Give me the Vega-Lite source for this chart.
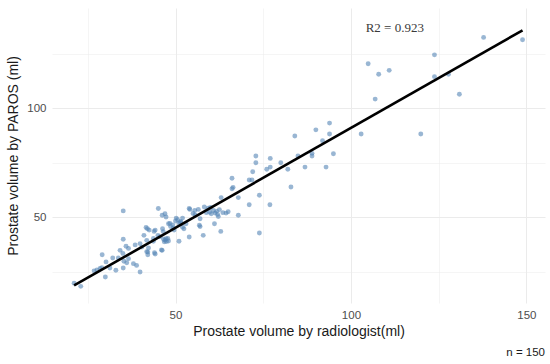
{
  "$schema": "https://vega.github.io/schema/vega-lite/v6.json",
  "width": 493,
  "height": 295,
  "autosize": "none",
  "padding": {"left": 52, "top": 8, "right": 5, "bottom": 61},
  "background": "white",
  "config": {
    "view": {"stroke": null},
    "font": "Liberation Sans",
    "axis": {
      "domain": false,
      "ticks": false,
      "labelColor": "#4d4d4d",
      "labelFontSize": 11.5,
      "titleColor": "#1a1a1a",
      "titleFontSize": 14,
      "titleFontWeight": "normal",
      "gridColor": "#ebebeb"
    }
  },
  "title": {
    "text": "n = 150",
    "orient": "bottom",
    "anchor": "end",
    "fontSize": 11.5,
    "fontWeight": "normal",
    "color": "#1a1a1a",
    "offset": 8
  },
  "data": {
    "values": [
      {"x": 21.1, "y": 19.6}, {"x": 23.0, "y": 18.2}, {"x": 26.8, "y": 25.3}, {"x": 27.6, "y": 25.7},
      {"x": 28.5, "y": 26.4}, {"x": 29.0, "y": 26.8}, {"x": 29.1, "y": 32.7}, {"x": 30.2, "y": 29.4},
      {"x": 30.0, "y": 22.5}, {"x": 31.3, "y": 26.6}, {"x": 32.1, "y": 31.2}, {"x": 33.0, "y": 25.6},
      {"x": 33.7, "y": 31.2}, {"x": 34.2, "y": 34.7}, {"x": 35.1, "y": 39.8}, {"x": 35.1, "y": 26.6},
      {"x": 35.3, "y": 29.7}, {"x": 35.9, "y": 36.6}, {"x": 36.1, "y": 29.0}, {"x": 35.1, "y": 52.8},
      {"x": 36.6, "y": 30.9}, {"x": 38.0, "y": 28.6}, {"x": 38.9, "y": 27.8}, {"x": 39.9, "y": 24.8},
      {"x": 39.9, "y": 37.8}, {"x": 40.4, "y": 36.2}, {"x": 41.0, "y": 41.6}, {"x": 41.8, "y": 39.3},
      {"x": 42.0, "y": 44.6}, {"x": 42.1, "y": 33.9}, {"x": 42.1, "y": 32.7}, {"x": 42.3, "y": 35.8},
      {"x": 43.7, "y": 38.9}, {"x": 43.9, "y": 43.4}, {"x": 44.0, "y": 33.6}, {"x": 45.1, "y": 53.9},
      {"x": 45.0, "y": 41.6}, {"x": 45.6, "y": 41.0}, {"x": 46.2, "y": 34.7}, {"x": 46.2, "y": 50.8},
      {"x": 46.3, "y": 44.6}, {"x": 46.6, "y": 39.8}, {"x": 47.0, "y": 39.4}, {"x": 47.4, "y": 38.8},
      {"x": 47.8, "y": 40.2}, {"x": 46.8, "y": 38.6}, {"x": 47.0, "y": 51.5}, {"x": 47.3, "y": 50.0},
      {"x": 48.0, "y": 46.9}, {"x": 48.6, "y": 45.6}, {"x": 49.2, "y": 46.4}, {"x": 49.4, "y": 45.0},
      {"x": 50.0, "y": 48.2}, {"x": 50.6, "y": 48.8}, {"x": 51.0, "y": 47.2}, {"x": 51.4, "y": 47.6},
      {"x": 51.0, "y": 38.9}, {"x": 52.0, "y": 49.5}, {"x": 52.4, "y": 44.6}, {"x": 53.0, "y": 46.9},
      {"x": 53.9, "y": 53.9}, {"x": 53.9, "y": 40.8}, {"x": 55.0, "y": 51.6}, {"x": 55.6, "y": 51.0},
      {"x": 56.8, "y": 46.2}, {"x": 57.0, "y": 49.2}, {"x": 57.9, "y": 41.6}, {"x": 58.2, "y": 54.6},
      {"x": 59.3, "y": 54.0}, {"x": 59.7, "y": 52.2}, {"x": 60.2, "y": 51.5}, {"x": 60.8, "y": 53.0},
      {"x": 61.3, "y": 51.8}, {"x": 61.7, "y": 52.6}, {"x": 62.0, "y": 51.2}, {"x": 62.5, "y": 53.4},
      {"x": 61.1, "y": 46.9}, {"x": 62.9, "y": 43.4}, {"x": 63.0, "y": 58.9}, {"x": 64.4, "y": 51.8},
      {"x": 65.0, "y": 52.4}, {"x": 66.4, "y": 63.6}, {"x": 66.1, "y": 63.0}, {"x": 66.1, "y": 67.8},
      {"x": 67.9, "y": 50.8}, {"x": 67.9, "y": 58.9}, {"x": 58.8, "y": 52.0}, {"x": 71.0, "y": 55.6},
      {"x": 73.9, "y": 60.0}, {"x": 73.9, "y": 42.7}, {"x": 76.9, "y": 55.6}, {"x": 71.0, "y": 67.0},
      {"x": 71.8, "y": 67.0}, {"x": 72.0, "y": 70.8}, {"x": 72.9, "y": 74.9}, {"x": 72.9, "y": 78.0},
      {"x": 76.0, "y": 71.9}, {"x": 77.0, "y": 72.9}, {"x": 77.0, "y": 76.9}, {"x": 80.0, "y": 74.9},
      {"x": 82.0, "y": 71.9}, {"x": 82.9, "y": 63.8}, {"x": 84.9, "y": 78.0}, {"x": 86.9, "y": 72.9},
      {"x": 92.9, "y": 72.9}, {"x": 88.9, "y": 79.2}, {"x": 88.9, "y": 78.0}, {"x": 95.0, "y": 79.0},
      {"x": 91.9, "y": 85.0}, {"x": 93.9, "y": 88.1}, {"x": 90.0, "y": 90.0}, {"x": 84.0, "y": 87.2},
      {"x": 93.9, "y": 93.1}, {"x": 104.9, "y": 120.3}, {"x": 107.9, "y": 115.5}, {"x": 110.9, "y": 117.3},
      {"x": 106.9, "y": 104.1}, {"x": 102.9, "y": 88.1}, {"x": 119.9, "y": 88.1}, {"x": 123.8, "y": 124.4},
      {"x": 123.8, "y": 114.4}, {"x": 127.8, "y": 115.5}, {"x": 130.9, "y": 106.3}, {"x": 137.8, "y": 132.4},
      {"x": 148.9, "y": 131.3}, {"x": 57.0, "y": 45.6}, {"x": 55.5, "y": 53.0}, {"x": 56.5, "y": 53.5},
      {"x": 41.6, "y": 45.2}, {"x": 42.5, "y": 44.0}, {"x": 44.2, "y": 44.0}, {"x": 43.7, "y": 40.2},
      {"x": 46.5, "y": 43.3}, {"x": 48.4, "y": 47.1}, {"x": 50.2, "y": 49.5}, {"x": 51.5, "y": 48.0},
      {"x": 52.0, "y": 45.3}, {"x": 47.3, "y": 40.0}, {"x": 48.0, "y": 39.0}, {"x": 54.1, "y": 53.5},
      {"x": 36.6, "y": 35.6}, {"x": 35.0, "y": 33.3}, {"x": 44.2, "y": 33.0}, {"x": 46.0, "y": 34.9},
      {"x": 41.8, "y": 34.1}, {"x": 38.5, "y": 37.2}, {"x": 60.0, "y": 54.4}, {"x": 63.5, "y": 52.0},
      {"x": 49.6, "y": 44.0}, {"x": 62.2, "y": 50.2}
    ]
  },
  "encoding": {
    "x": {
      "field": "x",
      "type": "quantitative",
      "scale": {"domain": [14.8, 155.3], "nice": false, "zero": false},
      "axis": {
        "title": "Prostate volume by radiologist(ml)",
        "values": [25, 50, 75, 100, 125, 150],
        "labelExpr": "datum.value % 50 === 0 ? datum.label : ''",
        "gridWidth": {"condition": {"test": "datum.value % 50 !== 0", "value": 0.5}, "value": 1},
        "labelPadding": 6,
        "titlePadding": 4
      }
    },
    "y": {
      "field": "y",
      "type": "quantitative",
      "scale": {"domain": [10.55, 145.9], "nice": false, "zero": false},
      "axis": {
        "title": "Prostate volume by PAROS (ml)",
        "values": [25, 50, 75, 100, 125],
        "labelExpr": "datum.value % 50 === 0 ? datum.label : ''",
        "gridWidth": {"condition": {"test": "datum.value % 50 !== 0", "value": 0.5}, "value": 1},
        "labelPadding": 6,
        "titlePadding": 6
      }
    }
  },
  "layer": [
    {
      "mark": {"type": "circle", "size": 24, "color": "#5585b5", "opacity": 0.6}
    },
    {
      "transform": [{"regression": "y", "on": "x"}],
      "mark": {"type": "line", "color": "black", "strokeWidth": 2.6}
    },
    {
      "data": {"values": [{"x": 112.5, "y": 136.7, "label": "R2 = 0.923"}]},
      "mark": {"type": "text", "font": "Liberation Serif", "fontSize": 13, "color": "#3a3a3a", "fontWeight": "normal"},
      "encoding": {"text": {"field": "label"}}
    }
  ]
}
